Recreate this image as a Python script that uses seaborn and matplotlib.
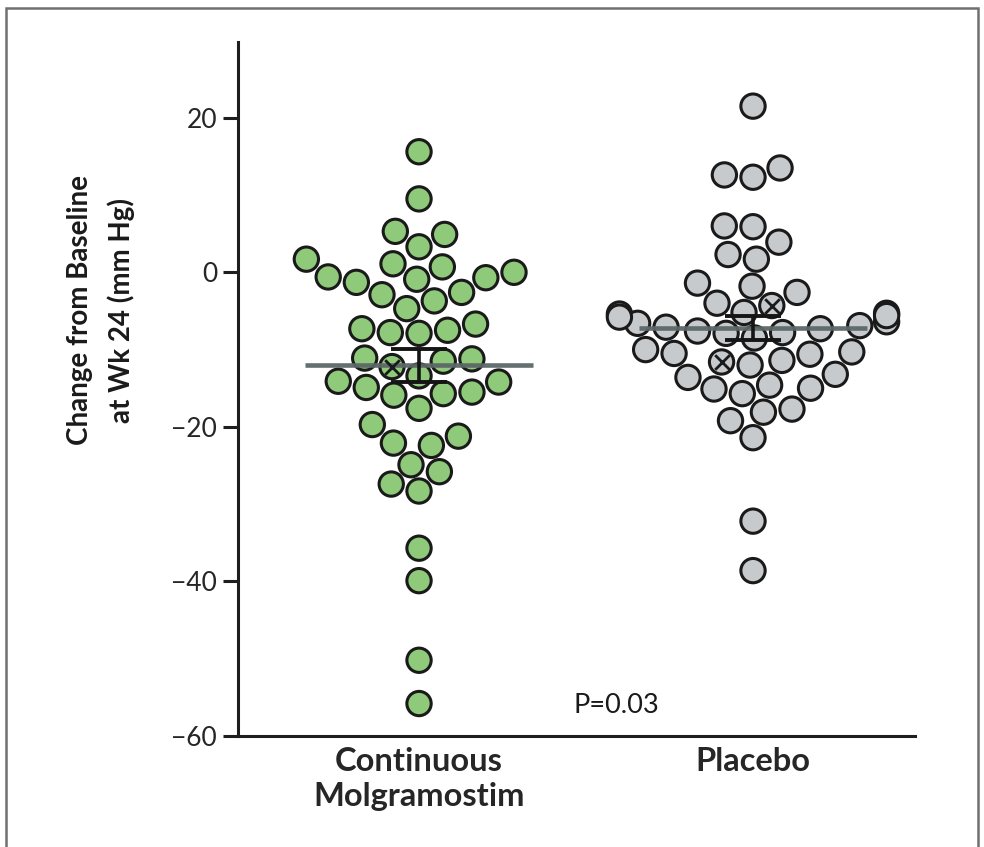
import numpy as np
import pandas as pd
import matplotlib
matplotlib.use("Agg")
import matplotlib.pyplot as plt
import seaborn as sns
from matplotlib.patches import Rectangle

# ---------------- data ----------------
categories = ["Continuous\nMolgramostim", "Placebo"]
molgramostim_values = [15.6, 9.5, 5.3, 4.9, 3.3, 1.7, 1.1, 0.7, -0.6, -0.7, 0.0, -0.9,
                       -1.3, -2.9, -2.6, -3.7, -4.7, -7.5, -7.3, -7.8, -6.7, -7.9,
                       -12.2, -11.2, -11.1, -11.5, -13.4, -15.7, -15.9, -15.5, -14.2,
                       -14.9, -14.1, -17.6, -19.7, -21.2, -22.4, -22.1, -25.8, -24.9,
                       -28.3, -27.4, -35.7, -39.9, -50.2, -55.8]
placebo_values = [21.5, 12.3, 12.6, 13.5, 5.9, 6.0, 3.9, 2.3, 1.7, -1.4, -1.8, -2.6,
                  -5.3, -6.4, -5.6, -4.3, -4.0, -5.4, -7.8, -8.5, -10.0, -7.1, -7.3,
                  -7.6, -7.9, -6.6, -6.9, -5.8, -5.2, -11.4, -10.6, -10.3, -10.5,
                  -11.6, -12.0, -13.2, -13.6, -15.1, -14.6, -15.7, -15.0, -18.1,
                  -17.7, -19.2, -21.4, -32.2, -38.6]
marked_molgramostim = [-12.2]
marked_placebo = [-4.3, -11.6]
y_ticks = [20, 0, -20, -40, -60]
y_label = "Change from Baseline\nat Wk 24 (mm Hg)"
p_label = "P=0.03"
fill_colors = ["#8FC97A", "#C7CACD"]

df = pd.DataFrame({
    "group": [categories[0]] * len(molgramostim_values) + [categories[1]] * len(placebo_values),
    "value": molgramostim_values + placebo_values,
})

# ---------------- style ----------------
sns.set_style("ticks")
plt.rcParams["font.family"] = ["Lato", "DejaVu Sans"]

W, H = 984, 847
fig = plt.figure(figsize=(W / 100, H / 100), dpi=100)
ax = fig.add_axes([238 / W, 1 - 736 / H, (915 - 238) / W, (736 - 42) / H])

sns.swarmplot(data=df, x="group", y="value", hue="group", order=categories,
              hue_order=categories, palette=fill_colors, size=17.5, linewidth=2.2,
              edgecolor="#1a1a1a", legend=False, ax=ax, zorder=2,
              warn_thresh=1.0)

ax.set_xlim(-0.542, 1.485)
ax.set_ylim(-60, 29.8)
ax.set_yticks(y_ticks)
ax.set_xlabel("")
ax.set_ylabel("")
sns.despine(ax=ax)
for side in ["left", "bottom"]:
    ax.spines[side].set_linewidth(2.2)
    ax.spines[side].set_color("#1e1e1e")
ax.tick_params(axis="y", length=11, width=2.2, color="#1e1e1e", labelsize=19, pad=4)
ax.tick_params(axis="x", length=0, pad=8, labelsize=23.5)
for lab in ax.get_xticklabels():
    lab.set_fontweight("bold")
    lab.set_linespacing(1.25)

# mean and SE
for i, vals in enumerate([molgramostim_values, placebo_values]):
    arr = np.asarray(vals, dtype=float)
    mean = arr.mean()
    se = arr.std(ddof=1) / np.sqrt(len(arr))
    ax.hlines(mean, i - 0.34, i + 0.34, color="#5c6767", lw=3.3, alpha=0.95, zorder=4)
    ax.errorbar(i, mean, yerr=se, color="#151515", lw=2.6, capsize=20, capthick=2.8,
                zorder=5)

# mark X on specific points (positions from seaborn's swarm layout)
fig.canvas.draw()
for coll, marks in zip(ax.collections[:2], [marked_molgramostim, marked_placebo]):
    offs = coll.get_offsets()
    for mv in marks:
        idx = np.argmin(np.abs(offs[:, 1] - mv))
        ax.scatter([offs[idx, 0]], [offs[idx, 1]], marker="x", s=110, color="#1a1a1a",
                   linewidths=2.0, zorder=6)

ax.text(0.59, -56.0, p_label, ha="center", va="center", fontsize=19.5, color="#1a1a1a")

fig.text(101 / W, 1 - 310 / H, y_label, rotation=90, ha="center", va="center",
         fontsize=20, fontweight="bold", linespacing=1.6, color="#1a1a1a")

fig.add_artist(Rectangle((6 / W, -0.05), (978 - 6) / W, 1 - 8 / H + 0.05,
                         transform=fig.transFigure, fill=False, ec="#707070", lw=1.8))

fig.savefig("out.png", dpi=100)
